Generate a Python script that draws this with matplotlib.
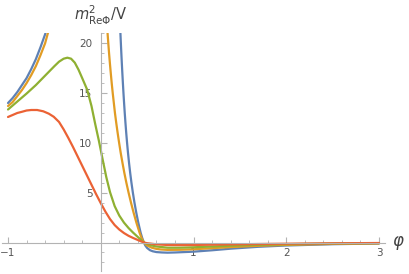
import numpy as np
import matplotlib
matplotlib.use("Agg")
import matplotlib.pyplot as plt
from matplotlib.ticker import MultipleLocator, FixedLocator

# ---- data ----
blue_x = [-1.0, -0.95, -0.9, -0.85, -0.8, -0.75, -0.7, -0.65, -0.6, -0.57, np.nan,
          0.207, 0.212, 0.2168, 0.2218, 0.2271, 0.2327, 0.2386, 0.2448, 0.2515, 0.2586,
          0.2663, 0.2746, 0.2837, 0.2937, 0.3048, 0.3171, 0.3308, 0.3462, 0.3634, 0.3827,
          0.4044, 0.4294, 0.447, 0.465, 0.48, 0.5, 0.53, 0.56, 0.6, 0.66, 0.72, 0.8, 0.9,
          1.0, 1.2, 1.4, 1.7, 2.0, 2.5, 3.0]
blue_y = [14.0, 14.5, 15.1, 15.8, 16.5, 17.4, 18.4, 19.6, 20.9, 21.8, np.nan,
          22.0, 21.0, 20.0, 19.0, 18.0, 17.0, 16.0, 15.0, 14.0, 13.0,
          12.0, 11.0, 10.0, 9.0, 8.0, 7.0, 6.0, 5.0, 4.0, 3.0,
          2.0, 1.0, 0.45, 0.0, -0.3, -0.55, -0.77, -0.88, -0.96, -1.0, -1.02, -1.0, -0.96,
          -0.92, -0.78, -0.62, -0.43, -0.3, -0.17, -0.1]

orange_x = [-1.0, -0.95, -0.9, -0.85, -0.8, -0.75, -0.7, -0.65, -0.6, -0.55, np.nan,
            0.066, 0.0734, 0.0812, 0.0895, 0.0984, 0.108, 0.118, 0.129, 0.141, 0.153,
            0.167, 0.182, 0.198, 0.215, 0.234, 0.254, 0.276, 0.3, 0.326, 0.354, 0.384,
            0.418, 0.44, 0.465, 0.48, 0.5, 0.55, 0.6, 0.65, 0.72, 0.85, 1.0,
            1.2, 1.4, 1.7, 2.0, 2.5, 3.0]
orange_y = [13.7, 14.1, 14.7, 15.3, 16.0, 16.8, 17.7, 18.8, 20.0, 21.7, np.nan,
            22.0, 21.0, 20.0, 19.0, 18.0, 17.0, 16.0, 15.0, 14.0, 13.0,
            12.0, 11.0, 10.0, 9.0, 8.0, 7.0, 6.0, 5.0, 4.0, 3.0, 2.0,
            1.0, 0.45, 0.0, -0.15, -0.3, -0.52, -0.64, -0.7, -0.74, -0.73, -0.68,
            -0.57, -0.46, -0.33, -0.24, -0.14, -0.09]

green_x = [-1.0, -0.9, -0.8, -0.7, -0.6, -0.5, -0.45, -0.4, -0.36, -0.32, -0.28, -0.24,
           -0.2, -0.147, -0.1, -0.06, -0.02, 0.02, 0.06, 0.1, 0.15, 0.2, 0.25, 0.3,
           0.35, 0.4, 0.465, 0.5, 0.55, 0.6, 0.72, 0.85, 1.0,
           1.2, 1.4, 1.7, 2.0, 2.5, 3.0]
green_y = [13.35, 14.15, 14.95, 15.8, 16.75, 17.7, 18.15, 18.45, 18.55, 18.45, 18.05, 17.35,
           16.5, 15.35, 13.7, 11.9, 10.2, 8.35, 6.55, 5.05, 3.65, 2.7, 2.0, 1.45,
           0.98, 0.55, 0.0, -0.15, -0.3, -0.4, -0.52, -0.52, -0.48,
           -0.4, -0.32, -0.23, -0.17, -0.1, -0.06]

red_x = [-1.0, -0.95, -0.9, -0.85, -0.8, -0.75, -0.686, -0.62, -0.56, -0.507, -0.45,
         -0.4, -0.35, -0.3, -0.25, -0.2, -0.15, -0.1, -0.05, 0.0, 0.05, 0.1, 0.15,
         0.2, 0.25, 0.3, 0.35, 0.4, 0.465, 0.5, 0.6, 0.72, 0.85, 1.0, 1.3, 1.7, 2.0, 2.5, 3.0]
red_y = [12.6, 12.8, 13.0, 13.12, 13.25, 13.3, 13.3, 13.17, 12.93, 12.62, 12.1,
         11.35, 10.5, 9.6, 8.65, 7.7, 6.75, 5.8, 4.85, 3.95, 3.1, 2.35, 1.75,
         1.3, 0.95, 0.67, 0.45, 0.25, 0.0, -0.07, -0.18, -0.25, -0.26, -0.25, -0.2, -0.15, -0.12, -0.08, -0.05]

x_major = [-1, 1, 2, 3]
x_labels = ["\u22121", "1", "2", "3"]
y_major = [5, 10, 15, 20]
y_labels = ["5", "10", "15", "20"]

colors = ["#5E81B5", "#E19C24", "#8FB032", "#EB6235"]

fig = plt.figure(figsize=(4.09, 2.74), dpi=100)
ax = fig.add_axes([0.006, 0.0095, 0.9365, 0.869])
ax.set_xlim(-1.06, 3.07)
ax.set_ylim(-2.9, 21.0)

for xs, ys, c in zip([blue_x, orange_x, green_x, red_x],
                     [blue_y, orange_y, green_y, red_y], colors):
    ax.plot(xs, ys, color=c, lw=1.6, solid_capstyle="round", solid_joinstyle="round")

axis_col = "#b3b3b3"
for s in ["top", "right"]:
    ax.spines[s].set_visible(False)
ax.spines["left"].set_position(("data", 0))
ax.spines["bottom"].set_position(("data", 0))
for s in ["left", "bottom"]:
    ax.spines[s].set_color(axis_col)
    ax.spines[s].set_linewidth(0.8)

ax.xaxis.set_major_locator(FixedLocator(x_major))
ax.set_xticklabels(x_labels)
ax.xaxis.set_minor_locator(FixedLocator([v for v in np.arange(-1.0, 3.01, 0.2) if abs(v) > 1e-6]))
ax.yaxis.set_major_locator(FixedLocator(y_major))
ax.set_yticklabels(y_labels)
ax.yaxis.set_minor_locator(MultipleLocator(1))

ax.tick_params(axis="x", which="major", direction="in", length=4, width=0.8,
               color=axis_col, labelsize=7.5, labelcolor="#555555", pad=4)
ax.tick_params(axis="x", which="minor", direction="in", length=2.5, width=0.6, color=axis_col)
ax.tick_params(axis="y", which="major", direction="in", length=4, width=0.8,
               color=axis_col, labelsize=7.5, labelcolor="#555555", pad=6)
ax.tick_params(axis="y", which="minor", direction="in", length=2.5, width=0.6, color=axis_col)

ax.text(0, 22.3, r"$m^2_{\mathrm{Re\Phi}}/\mathrm{V}$", ha="center", va="baseline",
        fontsize=10.5, color="#444444", clip_on=False)
ax.text(3.21, 0.0, r"$\varphi$", ha="center", va="center",
        fontsize=12, color="#444444", clip_on=False)

fig.savefig("out.png", dpi=100)
